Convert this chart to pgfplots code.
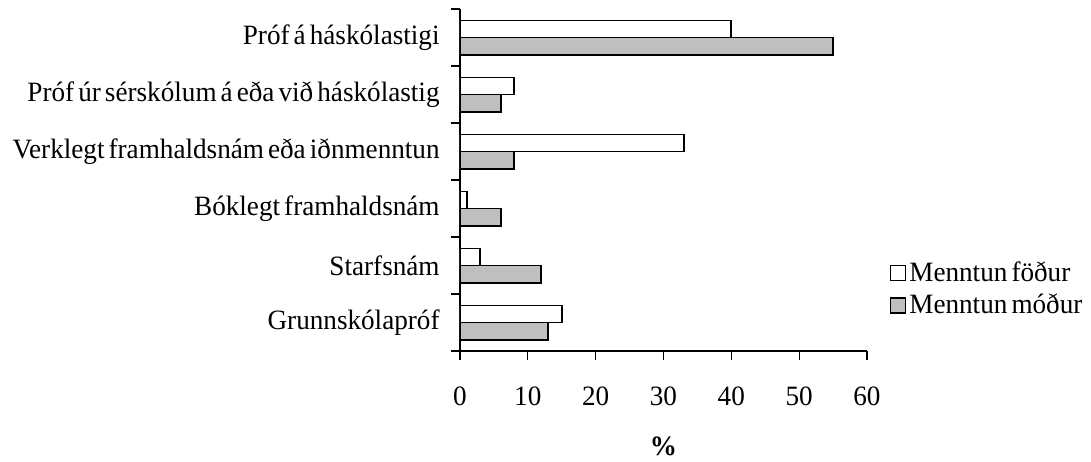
\documentclass[border=0pt]{standalone}
\usepackage{fontspec}
\setmainfont[WordSpace=0.6, FakeStretch=0.97]{Liberation Serif}
\usepackage{pgfplots}
\pgfplotsset{compat=1.18}
\usepackage{pgfplotstable}

% Education of parents (%), categories bottom to top
\pgfplotstableread{
y father mother
0 15 13
1 3 12
2 1 6
3 33 8
4 8 6
5 40 55
}\edu

\newcommand{\lblfont}{\fontsize{14}{16}\selectfont}

\begin{document}
\begin{tikzpicture}
\useasboundingbox (-230pt,-55pt) rectangle (315.5pt,175.5pt);
\begin{axis}[
  at={(0,0)}, anchor=south west,
  scale only axis,
  width=203.5pt, height=171pt,
  xbar, bar width=0.3,
  xmin=0, xmax=60,
  ymin=-0.5, ymax=5.5,
  axis x line*=bottom, axis y line*=left,
  axis line style={-, line width=0.6pt},
  tick align=outside,
  xtick={0,10,...,60},
  major tick length=4.5pt,
  tick style={black, line width=0.6pt},
  ytick={-0.5,0.5,...,5.5},
  yticklabels={},
  extra y ticks={0,1,2,3,4,5},
  extra y tick labels={Grunnskólapróf,Starfsnám,Bóklegt framhaldsnám,Verklegt framhaldsnám eða iðnmenntun,Próf úr sérskólum á eða við háskólastig,Próf á háskólastigi},
  extra y tick style={major tick length=0pt},
  /pgf/number format/assume math mode=true,
  every tick label/.append style={font=\lblfont},
  yticklabel style={anchor=east, inner sep=0pt, xshift=-10pt},
  xticklabel style={anchor=base, inner sep=0pt, yshift=-22.5pt},
  xlabel={\textbf{\%}},
  every axis x label/.style={at={(axis description cs:0.5,0)}, anchor=base, yshift=-52pt, font=\lblfont},
  legend style={at={(rel axis cs:1.056,0.272)}, anchor=north west, draw=none, fill=none,
    inner sep=0pt, font=\lblfont, row sep=2pt,
    nodes={inner sep=1.5pt}},
  legend image code/.code={\draw[draw=black, line width=0.6pt, #1] (0pt,-3.75pt) rectangle (7.5pt,3.75pt);},
  legend cell align=left,
]
\addplot[draw=black, fill=white, line width=0.9pt, bar shift=0.15] table[x=father, y=y] {\edu};
\addplot[draw=black, fill=black!25, line width=0.9pt, bar shift=-0.15] table[x=mother, y=y] {\edu};
\legend{Menntun föður, Menntun móður}
\end{axis}
\end{tikzpicture}
\end{document}
